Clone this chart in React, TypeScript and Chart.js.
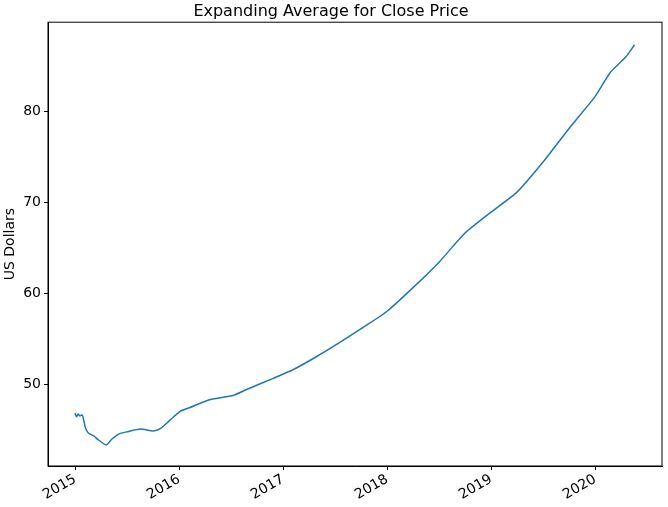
import React, { useEffect, useRef } from 'react';
import { Chart, registerables } from 'chart.js';

Chart.register(...registerables);

const years = [2015.0, 2015.015, 2015.03, 2015.045, 2015.07, 2015.1, 2015.13, 2015.18, 2015.22, 2015.3, 2015.35, 2015.42, 2015.5, 2015.63, 2015.75, 2015.82, 2015.9, 2016.01, 2016.1, 2016.3, 2016.52, 2016.65, 2016.9, 2017.1, 2017.32, 2017.55, 2017.78, 2018.0, 2018.25, 2018.5, 2018.75, 2019.0, 2019.25, 2019.5, 2019.75, 2020.0, 2020.15, 2020.3, 2020.38];
const closeAvg = [46.8, 46.4, 46.7, 46.5, 46.6, 45.2, 44.6, 44.3, 43.9, 43.3, 43.9, 44.5, 44.75, 45.05, 44.85, 45.1, 45.9, 47.0, 47.4, 48.3, 48.75, 49.4, 50.6, 51.6, 53.0, 54.6, 56.3, 58.0, 60.6, 63.4, 66.6, 68.9, 71.1, 74.4, 78.1, 81.6, 84.3, 86.0, 87.3];
const yearTicks = [2015, 2016, 2017, 2018, 2019, 2020];
const priceTicks = [50, 60, 70, 80];

const frame = {
  id: 'frame',
  afterDraw(chart: any) {
    const { ctx, chartArea: a } = chart;
    ctx.save();
    ctx.strokeStyle = '#000';
    ctx.lineWidth = 1;
    ctx.strokeRect(a.left, a.top, a.right - a.left, a.bottom - a.top);
    ctx.restore();
  },
};

export default function App() {
  const ref = useRef<HTMLCanvasElement | null>(null);

  useEffect(() => {
    document.body.style.margin = '0';
    if (!ref.current) return;
    const font = { family: 'DejaVu Sans', size: 14 };
    const chart = new Chart(ref.current, {
      type: 'line',
      data: {
        datasets: [{
          data: years.map((x, i) => ({ x, y: closeAvg[i] })),
          borderColor: '#1f77b4',
          borderWidth: 1.5,
          pointRadius: 0,
          tension: 0.2,
        }],
      },
      options: {
        animation: false,
        responsive: false,
        layout: { padding: { right: 6, top: 0 } },
        plugins: {
          legend: { display: false },
          tooltip: { enabled: false },
          title: {
            display: true,
            text: 'Expanding Average for Close Price',
            color: '#000',
            font: { family: 'DejaVu Sans', size: 16, weight: 'normal' },
            padding: { top: 2, bottom: 1 },
          },
        },
        scales: {
          x: {
            type: 'linear',
            min: 2014.74,
            max: 2020.644,
            afterBuildTicks: (s: any) => { s.ticks = yearTicks.map((v) => ({ value: v })); },
            afterFit: (s: any) => { s.height = 41; },
            grid: { drawOnChartArea: false, tickLength: 4, color: '#000' },
            border: { color: '#000' },
            ticks: { color: '#000', font, minRotation: 30, maxRotation: 30, padding: 1, callback: (v: any) => String(v) },
          },
          y: {
            min: 40.99,
            max: 89.78,
            afterBuildTicks: (s: any) => { s.ticks = priceTicks.map((v) => ({ value: v })); },
            afterFit: (s: any) => { s.width = 48; },
            grid: { drawOnChartArea: false, tickLength: 4, color: '#000' },
            border: { color: '#000' },
            title: { display: true, text: 'US Dollars', color: '#000', font, padding: 2 },
            ticks: { color: '#000', font, padding: 3 },
          },
        },
      },
      plugins: [frame],
    });
    return () => chart.destroy();
  }, []);

  return <canvas ref={ref} width={668} height={507} />;
}
